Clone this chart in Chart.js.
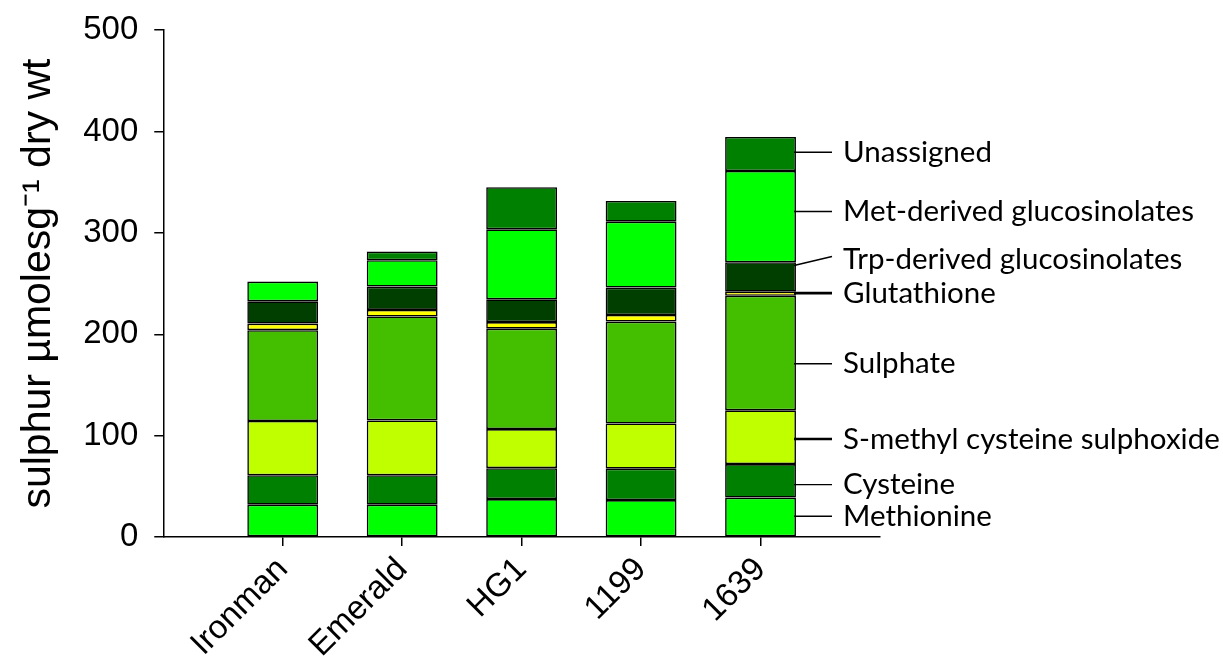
<!DOCTYPE html>
<html>
<head>
<meta charset="utf-8">
<script src="https://cdn.jsdelivr.net/npm/chart.js@4"></script>
<style>
  html, body { margin: 0; padding: 0; background: #fff; }
  #wrap { width: 1223px; height: 669px; }
</style>
</head>
<body>
<div id="wrap"><canvas id="grafico" width="1223" height="669"></canvas></div>
<script>
// cultivares
const categories = ["Ironman", "Emerald", "HG1", "1199", "1639"];

// segment heights, bottom to top
const methionine  = [32, 32, 37.5, 36.5, 39];
const cysteine    = [29, 29, 30.5, 31, 33];
const smcso       = [53.5, 54, 38.5, 44.5, 53];
const sulphate    = [89.5, 102.5, 99, 100.5, 113];
const glutathione = [6.5, 6.5, 6.5, 6.5, 4];
const trpGluc     = [22, 23, 22.5, 27, 29];
const metGluc     = [19.5, 26, 69, 65, 90];
const unassigned  = [0, 8.5, 41.5, 20.5, 33.5];

const seriesNames = ["Methionine", "Cysteine", "S-methyl cysteine sulphoxide", "Sulphate",
    "Glutathione", "Trp-derived glucosinolates", "Met-derived glucosinolates", "Unassigned"];
const seriesColors = ["#00ff00", "#008000", "#bfff00", "#43bf00", "#ffff00", "#003f00", "#00ff00", "#008000"];

const yTicks = [0, 100, 200, 300, 400, 500];

// labels on the right side (value on the y axis)
const sideLabels = ["Unassigned", "Met-derived glucosinolates", "Trp-derived glucosinolates", "Glutathione",
    "Sulphate", "S-methyl cysteine sulphoxide", "Cysteine", "Methionine"];
const sideLabelValues = [379.5, 321, 273.4, 240.6, 171, 96.7, 51.7, 20.5];
const sideLineFrom    = [379.5, 321, 267.8, 240.6, 171, 96.7, 51.7, 20.5];
const sideLineTo      = [379.5, 321, 276.7, 240.6, 171, 96.7, 51.7, 20.5];

const allSeries = [methionine, cysteine, smcso, sulphate, glutathione, trpGluc, metGluc, unassigned];

// empty slot on each end so the bars sit like in the original
const labels = [""].concat(categories).concat([""]);

const datasets = allSeries.map((serie, i) => ({
    label: seriesNames[i],
    data: [null].concat(serie).concat([null]),
    backgroundColor: seriesColors[i],
    borderColor: "#000",
    borderWidth: 1.6,
    borderSkipped: false,
    categoryPercentage: 1,
    barPercentage: 0.593
}));

const sideLabelPlugin = {
    id: "sideLabels",
    afterDraw(chart) {
        const ctx = chart.ctx;
        const y = chart.scales.y;
        const right = chart.chartArea.right;
        ctx.save();
        ctx.strokeStyle = "#000";
        ctx.fillStyle = "#000";
        ctx.font = "29.5px Lato";
        ctx.textAlign = "left";
        ctx.textBaseline = "middle";
        sideLabels.forEach((txt, i) => {
            ctx.lineWidth = (i === 3 || i === 5) ? 2.6 : 1.4;
            ctx.beginPath();
            ctx.moveTo(right - 86, y.getPixelForValue(sideLineFrom[i]));
            ctx.lineTo(right - 48, y.getPixelForValue(sideLineTo[i]));
            ctx.stroke();
            ctx.fillText(txt, right - 37, y.getPixelForValue(sideLabelValues[i]));
        });
        ctx.restore();
    }
};

const ctx = document.getElementById("grafico").getContext("2d");
new Chart(ctx, {
    type: "bar",
    data: { labels: labels, datasets: datasets },
    options: {
        responsive: false,
        animation: false,
        layout: { padding: { left: 14, right: 343, top: 30, bottom: 0 } },
        plugins: {
            legend: { display: false },
            tooltip: { enabled: false }
        },
        scales: {
            x: {
                stacked: true,
                offset: false,
                grid: {
                    offset: false,
                    drawOnChartArea: false,
                    drawTicks: true,
                    tickLength: 9,
                    lineWidth: 1.5,
                    color: c => (c.tick && c.tick.label === "") ? "rgba(0,0,0,0)" : "#000"
                },
                border: { color: "#000", width: 1.5 },
                ticks: {
                    color: "#000",
                    font: { family: "Liberation Sans, Arial", size: 33 },
                    maxRotation: 45,
                    minRotation: 45,
                    autoSkip: false,
                    padding: 4
                }
            },
            y: {
                stacked: true,
                min: 0,
                max: 500,
                afterBuildTicks: s => { s.ticks = yTicks.map(v => ({ value: v })); },
                afterFit: s => { s.paddingTop = 0; },
                grid: {
                    drawOnChartArea: false,
                    drawTicks: true,
                    tickLength: 9,
                    lineWidth: 1.5,
                    color: "#000"
                },
                border: { color: "#000", width: 1.5 },
                ticks: {
                    color: "#000",
                    font: { family: "Liberation Sans, Arial", size: 33 },
                    padding: 16
                },
                title: {
                    display: true,
                    text: "sulphur \u00b5molesg\u207b\u00b9 dry wt",
                    color: "#000",
                    font: { family: "Liberation Sans, Arial", size: 41 },
                    padding: { top: 0, bottom: 4 }
                }
            }
        }
    },
    plugins: [sideLabelPlugin]
});
</script>
</body>
</html>
